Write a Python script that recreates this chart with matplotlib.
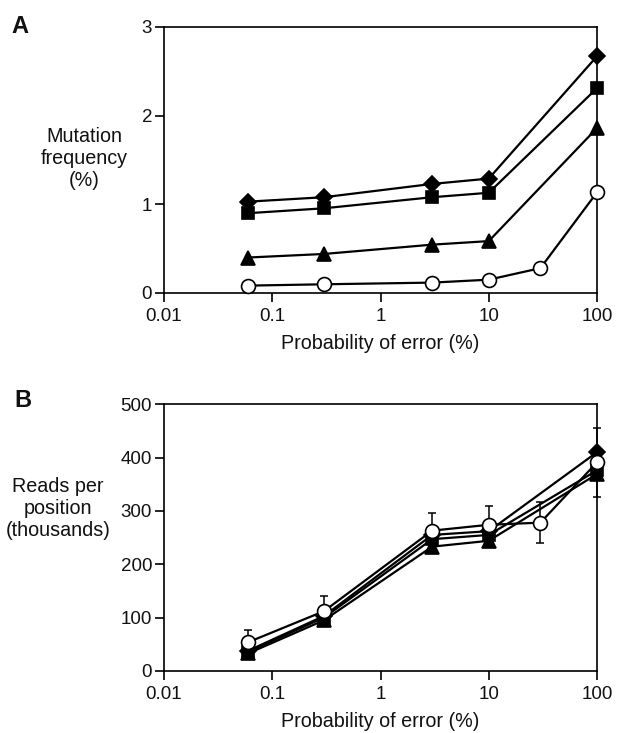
import matplotlib
matplotlib.use("Agg")
import matplotlib.pyplot as plt
from matplotlib.ticker import FixedLocator, FixedFormatter, NullLocator

plt.rcParams['font.family'] = ['Liberation Sans', 'DejaVu Sans']

# Panel A data: mutation frequency (%)
x_main = [0.06, 0.3, 3, 10, 100]
x_circ = [0.06, 0.3, 3, 10, 30, 100]
a_diamond = [1.03, 1.08, 1.23, 1.29, 2.67]
a_square = [0.90, 0.955, 1.08, 1.13, 2.31]
a_triangle = [0.40, 0.44, 0.545, 0.585, 1.86]
a_circle = [0.083, 0.098, 0.117, 0.15, 0.28, 1.135]

# Panel B data: reads per position (thousands)
b_diamond = [38, 103, 255, 262, 410]
b_square = [36, 100, 247, 255, 376]
b_triangle = [33, 95, 233, 244, 369]
b_circle = [54, 112, 263, 274, 278, 391]
b_circle_err = [23, 28, 33, 35, 38, 65]

xticks = [0.01, 0.1, 1, 10, 100]
xticklabels = ['0.01', '0.1', '1', '10', '100']

TXT = '#111111'
fig = plt.figure(figsize=(6.17, 7.33), dpi=100)
axA = fig.add_axes([0.2658, 0.6003, 0.7018, 0.3629])
axB = fig.add_axes([0.2658, 0.0846, 0.7018, 0.3640])

lw = 1.6
def series(ax, x, y, marker, ms, filled=True, z=3):
    ax.plot(x, y, color='black', lw=lw, marker=marker, ms=ms,
            mfc='black' if filled else 'white', mec='black', mew=1.2,
            zorder=z, clip_on=False)

for ax in (axA, axB):
    ax.set_xscale('log')
    ax.set_xlim(0.01, 100)
    ax.xaxis.set_major_locator(FixedLocator(xticks))
    ax.xaxis.set_major_formatter(FixedFormatter(xticklabels))
    ax.xaxis.set_minor_locator(NullLocator())
    ax.tick_params(axis='both', direction='out', length=6.5, width=1.2,
                   labelsize=13.5, top=False, right=False, labelcolor=TXT)
    ax.tick_params(axis='x', pad=4)
    ax.tick_params(axis='y', pad=2)
    for s in ax.spines.values():
        s.set_linewidth(1.2)
    ax.set_xlabel('Probability of error (%)', fontsize=14.2, labelpad=7, color=TXT)

# Panel A
series(axA, x_main, a_triangle, '^', 10, z=3)
series(axA, x_main, a_square, 's', 8, z=4)
series(axA, x_main, a_diamond, 'D', 8, z=5)
series(axA, x_circ, a_circle, 'o', 10, filled=False, z=6)
axA.set_ylim(0, 3)
axA.set_yticks([0, 1, 2, 3])
axA.set_yticklabels(['0', '1', '2', '3'])

# Panel B
axB.errorbar(x_circ, b_circle, yerr=b_circle_err, fmt='none', ecolor='black',
             elinewidth=1.1, capsize=3, capthick=1.1, zorder=2, clip_on=False)
series(axB, x_main, b_triangle, '^', 10, z=3)
series(axB, x_main, b_square, 's', 8, z=4)
series(axB, x_main, b_diamond, 'D', 8, z=5)
series(axB, x_circ, b_circle, 'o', 10, filled=False, z=6)
axB.set_ylim(0, 500)
axB.set_yticks([0, 100, 200, 300, 400, 500])
axB.set_yticklabels(['0', '100', '200', '300', '400', '500'])

fig.text(84/617, 1 - 159/733, 'Mutation\nfrequency\n(%)', fontsize=14.2,
         ha='center', va='center', linespacing=1.2, color=TXT)
fig.text(58/617, 1 - 509/733, 'Reads per\nposition\n(thousands)', fontsize=14.2,
         ha='center', va='center', linespacing=1.2, color=TXT)
fig.text(11/617, 1 - 33/733, 'A', fontsize=17, fontweight='bold',
         ha='left', va='baseline', color=TXT)
fig.text(14/617, 1 - 407/733, 'B', fontsize=17, fontweight='bold',
         ha='left', va='baseline', color=TXT)

fig.savefig('out.png', dpi=100)
